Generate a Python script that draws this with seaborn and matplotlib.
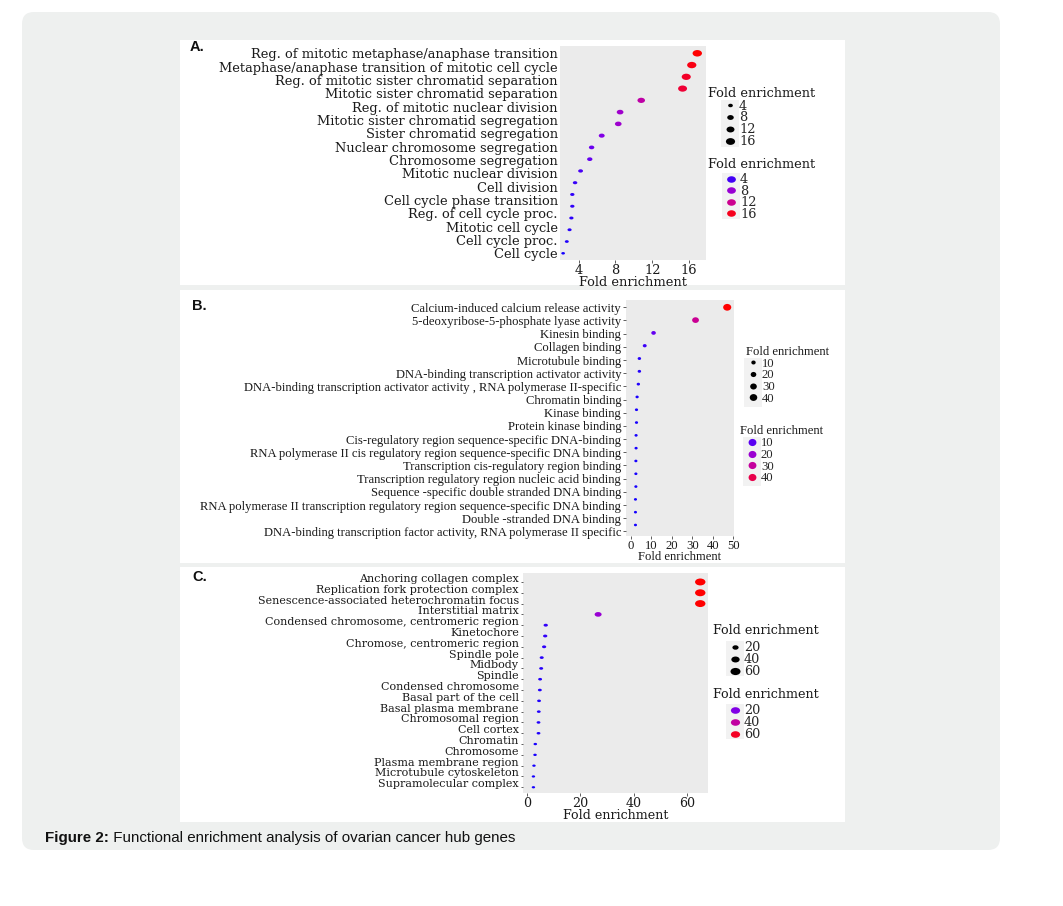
import numpy as np
import matplotlib
matplotlib.use('Agg')
import matplotlib.pyplot as plt
import seaborn as sns
from matplotlib.path import Path
from matplotlib.transforms import Affine2D, IdentityTransform
from matplotlib.colors import LinearSegmentedColormap, Normalize
from matplotlib.lines import Line2D
from matplotlib.patches import FancyBboxPatch, Rectangle

W, H = 1063, 906

# ---- data ----
a_terms = [
    'Reg. of mitotic metaphase/anaphase transition',
    'Metaphase/anaphase transition of mitotic cell cycle',
    'Reg. of mitotic sister chromatid separation',
    'Mitotic sister chromatid separation',
    'Reg. of mitotic nuclear division',
    'Mitotic sister chromatid segregation',
    'Sister chromatid segregation',
    'Nuclear chromosome segregation',
    'Chromosome segregation',
    'Mitotic nuclear division',
    'Cell division',
    'Cell cycle phase transition',
    'Reg. of cell cycle proc.',
    'Mitotic cell cycle',
    'Cell cycle proc.',
    'Cell cycle',
]
# the original panel has more dots than labels
a_fold = [16.9, 16.3, 15.7, 15.3, 10.8, 8.5, 8.3, 6.5, 5.4, 5.2,
          4.2, 3.6, 3.3, 3.3, 3.2, 3.0, 2.7, 2.3]
a_keys = [4, 8, 12, 16]

b_terms = [
    'Calcium-induced calcium release activity',
    '5-deoxyribose-5-phosphate lyase activity',
    'Kinesin binding',
    'Collagen binding',
    'Microtubule binding',
    'DNA-binding transcription activator activity',
    'DNA-binding transcription activator activity , RNA polymerase II-specific',
    'Chromatin binding',
    'Kinase binding',
    'Protein kinase binding',
    'Cis-regulatory region sequence-specific DNA-binding',
    'RNA polymerase II cis regulatory region sequence-specific DNA binding',
    'Transcription cis-regulatory region binding',
    'Transcription regulatory region nucleic acid binding',
    'Sequence -specific double stranded DNA binding',
    'RNA polymerase II transcription regulatory region sequence-specific DNA binding',
    'Double -stranded DNA binding',
    'DNA-binding transcription factor activity, RNA polymerase II specific',
]
b_fold = [47.0, 31.6, 11.2, 6.9, 4.3, 4.3, 3.8, 3.2, 2.9, 2.9,
          2.7, 2.7, 2.6, 2.6, 2.6, 2.4, 2.4, 2.4]
b_keys = [10, 20, 30, 40]

c_terms = [
    'Anchoring collagen complex',
    'Replication fork protection complex',
    'Senescence-associated heterochromatin focus',
    'Interstitial matrix',
    'Condensed chromosome, centromeric region',
    'Kinetochore',
    'Chromose, centromeric region',
    'Spindle pole',
    'Midbody',
    'Spindle',
    'Condensed chromosome',
    'Basal part of the cell',
    'Basal plasma membrane',
    'Chromosomal region',
    'Cell cortex',
    'Chromatin',
    'Chromosome',
    'Plasma membrane region',
    'Microtubule cytoskeleton',
    'Supramolecular complex',
]
c_fold = [64.8, 64.8, 64.8, 26.6, 7.0, 6.8, 6.4, 5.5, 5.3, 4.9,
          4.8, 4.5, 4.4, 4.3, 4.3, 3.1, 3.0, 2.6, 2.4, 2.4]
c_keys = [20, 40, 60]

sns.set_theme(style='white')
plt.rcParams['font.family'] = ['DejaVu Serif']

cmap = LinearSegmentedColormap.from_list(
    'fe', ['#1400FF', '#7A00EC', '#B000BE', '#DA0078', '#FF0000'])


def ellipse(aspect):
    return Path.unit_circle().transformed(Affine2D().scale(aspect, 1))


def frac(l, t, r, b):
    return [l / W, 1 - b / H, (r - l) / W, (b - t) / H]


fig = plt.figure(figsize=(W / 100, H / 100), dpi=100)
fig.patch.set_facecolor('white')

# page card + white panels
fig.add_artist(FancyBboxPatch((0.22, 0.56), 9.78, 8.38,
                              boxstyle='round,pad=0,rounding_size=0.12',
                              transform=fig.dpi_scale_trans,
                              fc='#EEF0EF', ec='none', zorder=-10))
for top, bot in [(40, 285), (290, 563), (567, 822)]:
    fig.add_artist(Rectangle((180 / W, 1 - bot / H), 665 / W, (bot - top) / H,
                             transform=fig.transFigure, fc='white', ec='none', zorder=-5))


def dot_panel(rect, terms, fold, tick_pos, xlim, ylim, xticks, sizes, aspect,
              family, fs, label_fs, ytick_len, label_va='center_baseline'):
    ax = fig.add_axes(frac(*rect))
    lo_hi = (min(fold), max(fold))
    pos = np.arange(len(fold))
    sns.scatterplot(x=fold, y=pos, hue=fold, size=fold, palette=cmap,
                    hue_norm=lo_hi, size_norm=lo_hi, sizes=sizes,
                    marker=ellipse(aspect), linewidth=0, legend=False, ax=ax)
    ax.set_facecolor('#EBEBEB')
    for s in ax.spines.values():
        s.set_visible(False)
    ax.set_xlim(*xlim)
    ax.set_ylim(*ylim)
    ax.set_xticks(xticks)
    ax.set_yticks(tick_pos)
    ax.set_yticklabels(terms, family=family, fontsize=label_fs, color='#1a1a1a', va=label_va)
    ax.set_xticklabels([str(t) for t in xticks], family=family, fontsize=fs, color='#1a1a1a')
    ax.tick_params(axis='x', length=2.2, width=0.6, color='#444444', pad=1.0, bottom=True)
    ax.tick_params(axis='y', length=ytick_len, width=0.6, color='#444444', pad=1.5, left=True)
    ax.set_xlabel('Fold enrichment', family=family, fontsize=fs, color='#1a1a1a', labelpad=-1)
    ax.set_ylabel('')
    return ax, lo_hi


def key_legend(keys, lo_hi, sizes, aspect, col_size, dot_x, row1, step, title_pos,
               family, fs, color_keys):
    px_per_pt = 100 / 72
    lo, hi = lo_hi
    norm = Normalize(lo, hi)
    handles = []
    for k in keys:
        if color_keys:
            ms, c = np.sqrt(col_size), cmap(norm(k))
        else:
            s = sizes[0] + (k - lo) / (hi - lo) * (sizes[1] - sizes[0])
            ms, c = np.sqrt(s), 'black'
        handles.append(Line2D([], [], ls='', marker=ellipse(aspect), ms=ms, mfc=c, mec='none'))
    fig.text(title_pos[0] / W, 1 - title_pos[1] / H, 'Fold enrichment',
             family=family, fontsize=fs, color='#1a1a1a', va='center', ha='left')
    # grey key background, as in ggplot
    top = row1 - step / 2
    fig.add_artist(Rectangle(((dot_x - 9) / W, 1 - (top + step * len(keys)) / H),
                             18 / W, step * len(keys) / H, transform=fig.transFigure,
                             fc='#F2F2F2', ec='none', zorder=1))
    lh = 0.8
    hw = lh * fs * px_per_pt
    text_h = fs * px_per_pt
    leg = fig.legend(handles, [str(k) for k in keys], loc='upper left',
                     bbox_to_anchor=((dot_x - hw / 2) / W, 1 - top / H),
                     frameon=False, borderpad=0, borderaxespad=0, handlelength=lh,
                     handletextpad=0.3, labelspacing=(step - text_h) / text_h,
                     prop={'family': family, 'size': fs})
    leg.set_zorder(5)


# ---- panel A ----
a_sizes = (7, 46)
axA, a_range = dot_panel((560, 46, 706, 260), a_terms, a_fold,
                         np.linspace(0, len(a_fold) - 1, len(a_terms)),
                         (1.96, 17.85), (17.57, -0.62), [4, 8, 12, 16],
                         a_sizes, 1.45, 'DejaVu Serif', 9.4, 9.4, 0)
key_legend(a_keys, a_range, a_sizes, 1.35, 0, 730, 105.5, 11.8, (708, 93.5),
           'DejaVu Serif', 9.3, False)
key_legend(a_keys, a_range, a_sizes, 1.35, 40, 731, 179, 11.5, (708, 165),
           'DejaVu Serif', 9.3, True)

# ---- panel B ----
b_sizes = (5, 34)
axB, b_range = dot_panel((626, 300, 734, 536), b_terms, b_fold,
                         np.linspace(0, 17.5, len(b_terms)),
                         (-2.2, 50.3), (17.86, -0.57), [0, 10, 20, 30, 40, 50],
                         b_sizes, 1.2, 'Liberation Serif', 9.1, 9.1, 2.0)
key_legend(b_keys, b_range, b_sizes, 1.1, 0, 753, 364, 12.2, (746, 352),
           'Liberation Serif', 9.1, False)
key_legend(b_keys, b_range, b_sizes, 1.1, 32, 752, 443.5, 12.2, (740, 431),
           'Liberation Serif', 9.1, True)

# ---- panel C ----
c_sizes = (6, 56)
axC, c_range = dot_panel((523, 573, 708, 793), c_terms, c_fold,
                         np.arange(len(c_terms)),
                         (-1.5, 67.7), (19.53, -0.83), [0, 20, 40, 60],
                         c_sizes, 1.5, 'DejaVu Serif', 9.1, 8.0, 1.5, label_va='baseline')
key_legend(c_keys, c_range, c_sizes, 1.4, 0, 735, 647, 11.7, (713, 631),
           'DejaVu Serif', 9.2, False)
key_legend(c_keys, c_range, c_sizes, 1.4, 44, 735, 710, 11.7, (713, 694),
           'DejaVu Serif', 9.2, True)

# panel letters
for lab, (x, y) in {'A.': (190, 47), 'B.': (192, 306), 'C.': (192, 577)}.items():
    fig.text(x / W, 1 - y / H, lab, family='Liberation Sans', weight='bold',
             fontsize=10.5, va='center', ha='left', color='#111111')

# caption
t1 = fig.text(45 / W, 1 - 838 / H, 'Figure 2:', family='Liberation Sans',
              weight='bold', fontsize=10.9, va='center', ha='left', color='#111111')
t2 = fig.text(0, 0, ' Functional enrichment analysis of ovarian cancer hub genes',
              family='Liberation Sans', fontsize=10.9, va='center', ha='left',
              color='#111111')
fig.canvas.draw()
bb = t1.get_window_extent()
t2.set_transform(IdentityTransform())
t2.set_position((bb.x1, (bb.y0 + bb.y1) / 2))

fig.savefig('out.png', dpi=100)
